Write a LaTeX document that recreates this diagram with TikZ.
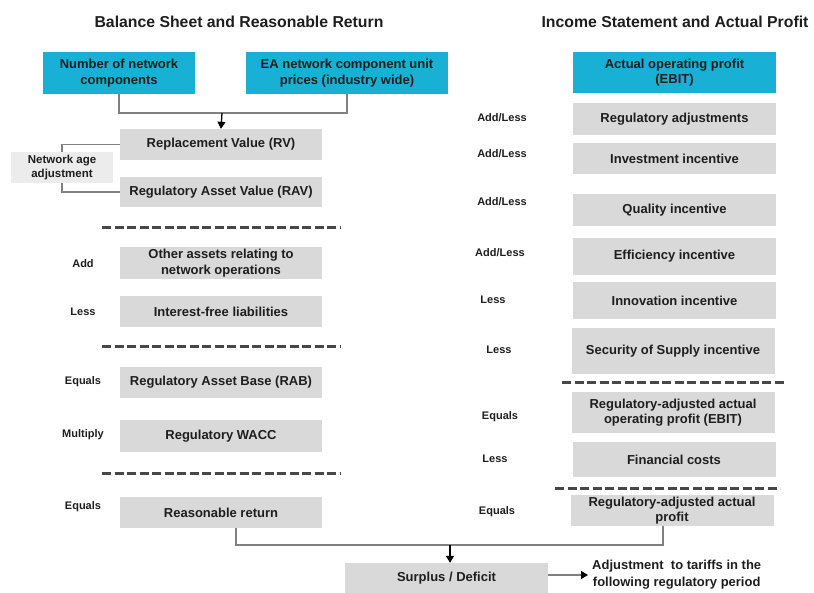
\documentclass[tikz,border=0pt]{standalone}
\usepackage{fontspec}
\setmainfont{Liberation Sans}
\usetikzlibrary{arrows.meta}
\definecolor{boxblue}{RGB}{25,176,214}
\definecolor{boxgray}{RGB}{217,217,217}
\definecolor{agegray}{RGB}{236,236,236}
\definecolor{txtgray}{RGB}{30,30,30}
\definecolor{linegray}{RGB}{128,128,128}
\tikzset{
	box/.style={fill=boxgray, minimum width=202pt, inner sep=0pt, align=center, text=txtgray, font=\bfseries\fontsize{13}{15.5}\selectfont},
	bluebox/.style={box, fill=boxblue},
	lbl/.style={text=txtgray, font=\bfseries\fontsize{11}{12}\selectfont},
	ttl/.style={text=txtgray, font=\bfseries\fontsize{15.8}{17}\selectfont},
	sepline/.style={dash pattern=on 9pt off 3.5pt, line width=3pt, black!72},
	conn/.style={draw=linegray, line width=1.3pt},
	tip/.style={-{Triangle[length=7pt,width=8pt,color=black]}},
}
\begin{document}
\begin{tikzpicture}[x=1pt,y=-1pt]
	\useasboundingbox (0,0) rectangle (814,593);
	% titles
	\node[ttl] (tl) at (239,22) {Balance Sheet and Reasonable Return};
	\node[ttl] (tr) at (675,22) {Income Statement and Actual Profit};
	% left column
	\node[bluebox, minimum width=152pt, minimum height=42pt] (nc) at (119,73) {Number of network\\components};
	\node[bluebox, minimum height=42pt] (ea) at (347,73) {EA network component unit\\prices (industry wide)};
	\node[box, minimum height=31pt] (rv) at (221,144.5) {Replacement Value (RV)};
	\node[box, fill=agegray, minimum width=102pt, minimum height=31pt, font=\bfseries\fontsize{11.5}{14}\selectfont] (age) at (62,167.5) {Network age\\adjustment};
	\node[box, minimum height=30pt] (rav) at (221,192) {Regulatory Asset Value (RAV)};
	\node[box, minimum height=32pt] (oa) at (221,263) {Other assets relating to\\network operations};
	\node[box, minimum height=31pt] (ifl) at (221,311.5) {Interest-free liabilities};
	\node[box, minimum height=31pt] (rab) at (221,382.5) {Regulatory Asset Base (RAB)};
	\node[box, minimum height=32pt] (wacc) at (221,436) {Regulatory WACC};
	\node[box, minimum height=31pt] (rr) at (221,512.5) {Reasonable return};
	\node[lbl] (l1) at (83,264) {Add};
	\node[lbl] (l2) at (83,312) {Less};
	\node[lbl] (l3) at (83,382) {Equals};
	\node[lbl] (l4) at (83,435) {Multiply};
	\node[lbl] (l5) at (83,507) {Equals};
	\draw[sepline] (102,228) -- (340,228);
	\draw[sepline] (102,347) -- (340,347);
	\draw[sepline] (102,473) -- (340,473);
	% right column
	\node[bluebox, minimum width=203pt, minimum height=41pt] (op) at (674.5,72.5) {Actual operating profit\\(EBIT)};
	\node[box, minimum width=203pt, minimum height=32pt] (ra) at (674.5,119) {Regulatory adjustments};
	\node[box, minimum width=203pt, minimum height=31pt] (ii) at (674.5,158.5) {Investment incentive};
	\node[box, minimum width=203pt, minimum height=32pt] (qi) at (674.5,210) {Quality incentive};
	\node[box, minimum width=203pt, minimum height=37pt] (ei) at (674.5,256.5) {Efficiency incentive};
	\node[box, minimum width=203pt, minimum height=37pt] (ni) at (674.5,300.5) {Innovation incentive};
	\node[box, minimum width=203pt, minimum height=46pt] (si) at (673,351) {Security of Supply incentive};
	\node[box, minimum width=203pt, minimum height=41pt] (re) at (673,412.5) {Regulatory-adjusted actual\\operating profit (EBIT)};
	\node[box, minimum width=203pt, minimum height=35pt] (fc) at (674,459.5) {Financial costs};
	\node[box, minimum width=203pt, minimum height=31pt] (rp) at (672,510.5) {Regulatory-adjusted actual\\profit};
	\node[lbl] (r1) at (502,118) {Add/Less};
	\node[lbl] (r2) at (502,154) {Add/Less};
	\node[lbl] (r3) at (502,202) {Add/Less};
	\node[lbl] (r4) at (500,253) {Add/Less};
	\node[lbl] (r5) at (493,300) {Less};
	\node[lbl] (r6) at (499,350) {Less};
	\node[lbl] (r7) at (500,417) {Equals};
	\node[lbl] (r8) at (495,459) {Less};
	\node[lbl] (r9) at (497,512) {Equals};
	\draw[sepline] (562,383) -- (784,383);
	\draw[sepline] (555,488) -- (780,488);
	% bottom
	\node[box, minimum width=203pt, minimum height=30pt] (sd) at (446.5,578) {Surplus / Deficit};
	\node[text=txtgray, align=center, anchor=west, inner sep=0pt, font=\bfseries\fontsize{13}{17}\selectfont] (adj) at (592,575) {Adjustment \ to tariffs in the\\following regulatory period};
	% connectors
	\coordinate (jt) at (222,113);
	\coordinate (jb) at (450,545);
	\draw[conn] (nc.south) |- (jt) -| (ea.south);
	\draw[line width=1.3pt, tip] (jt) -- (rv.north);
	\draw[conn] (rv.west) -| (age.north);
	\draw[conn] (age.south) |- (rav.west);
	\draw[conn] ([xshift=15pt]rr.south) |- (jb);
	\draw[conn] ([xshift=-9pt]rp.south) |- (jb);
	\draw[line width=1.3pt, tip] (jb) -- (jb |- sd.north);
	\draw[conn, tip] (sd.east |- adj.west) -- ([xshift=-4pt]adj.west);
\end{tikzpicture}
\end{document}
